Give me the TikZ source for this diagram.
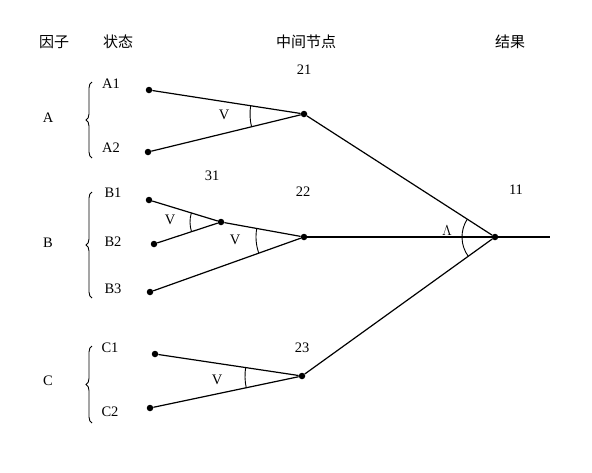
\documentclass[tikz,border=0pt]{standalone}
\usepackage{fontspec}
\setmainfont{Liberation Serif}
\newfontfamily\cjk{Noto Sans CJK SC}
\usetikzlibrary{decorations.pathreplacing}
\begin{document}
\begin{tikzpicture}[x=1pt,y=1pt,
  dot/.style={circle,fill=black,inner sep=0pt,minimum size=6.5pt},
  lbl/.style={font=\fontsize{14.5}{16}\selectfont,inner sep=0pt},
  head/.style={font=\cjk\fontsize{15}{17}\selectfont,inner sep=0pt},
  conn/.style={line width=1.2pt},
  angmark/.style={line width=0.9pt},
  brc/.style={decorate,decoration={brace,amplitude=6pt},line width=0.9pt}]
\useasboundingbox[fill=white] (0,0) rectangle (592,-472);
% headers
\node[head] (h1) at (54,-42) {因子};
\node[head] (h2) at (118,-42) {状态};
\node[head] (h3) at (306,-42) {中间节点};
\node[head] (h4) at (510,-42) {结果};
% factor labels
\node[lbl] (fa) at (48,-118) {A};
\node[lbl] (fb) at (48,-243) {B};
\node[lbl] (fc) at (48,-381) {C};
% state labels
\node[lbl] (la1) at (111,-84) {A1};
\node[lbl] (la2) at (111,-148) {A2};
\node[lbl] (lb1) at (113,-193) {B1};
\node[lbl] (lb2) at (113,-242) {B2};
\node[lbl] (lb3) at (113,-289) {B3};
\node[lbl] (lc1) at (110,-348) {C1};
\node[lbl] (lc2) at (110,-412) {C2};
% braces
\draw[brc] (92,-158) -- (92,-82);
\draw[brc] (92,-298) -- (92,-192);
\draw[brc] (92,-423) -- (92,-346);
% dots
\node[dot] (a1) at (149,-90) {};
\node[dot] (a2) at (148,-152) {};
\node[dot] (b1) at (149,-200) {};
\node[dot] (b2) at (154,-244) {};
\node[dot] (b3) at (150,-292) {};
\node[dot] (c1) at (155,-354) {};
\node[dot] (c2) at (150,-408) {};
\node[dot] (n21) at (304,-114) {};
\node[dot] (n31) at (221,-222) {};
\node[dot] (n22) at (304,-237) {};
\node[dot] (n23) at (302,-376) {};
\node[dot] (n11) at (495,-237) {};
\coordinate (tail) at (550,-237);
% number labels
\node[lbl] (t21) at (304,-70) {21};
\node[lbl] (t31) at (212,-176) {31};
\node[lbl] (t22) at (303,-192) {22};
\node[lbl] (t23) at (302,-348) {23};
\node[lbl] (t11) at (516,-190) {11};
% connectors
\draw[conn] (a1) -- (n21);
\draw[conn] (a2) -- (n21);
\draw[conn] (b1) -- (n31);
\draw[conn] (b2) -- (n31);
\draw[conn] (n31) -- (n22);
\draw[conn] (b3) -- (n22);
\draw[conn] (c1) -- (n23);
\draw[conn] (c2) -- (n23);
\draw[conn] (n21) -- (n11);
\draw[conn] (n22) -- (n11);
\draw[conn] (n23) -- (n11);
\draw[conn] (n11) -- (tail);
% angle marks
\draw[angmark] ([shift={(171.2:54)}]n21.center) arc[start angle=171.2,end angle=193.7,radius=54pt];
\draw[angmark] ([shift={(163.0:31)}]n31.center) arc[start angle=163.0,end angle=198.2,radius=31pt];
\draw[angmark] ([shift={(169.8:48)}]n22.center) arc[start angle=169.8,end angle=199.7,radius=48pt];
\draw[angmark] ([shift={(171.5:57)}]n23.center) arc[start angle=171.5,end angle=191.9,radius=57pt];
\draw[angmark] ([shift={(147.2:33)}]n11.center) arc[start angle=147.2,end angle=215.8,radius=33pt];
\node[lbl] (v1) at (224,-115) {V};
\node[lbl] (v2) at (170,-220) {V};
\node[lbl] (v3) at (235,-240) {V};
\node[lbl] (v4) at (217,-380) {V};
\node[lbl] (lam) at (447,-231) {$\Lambda$};
\end{tikzpicture}
\end{document}
